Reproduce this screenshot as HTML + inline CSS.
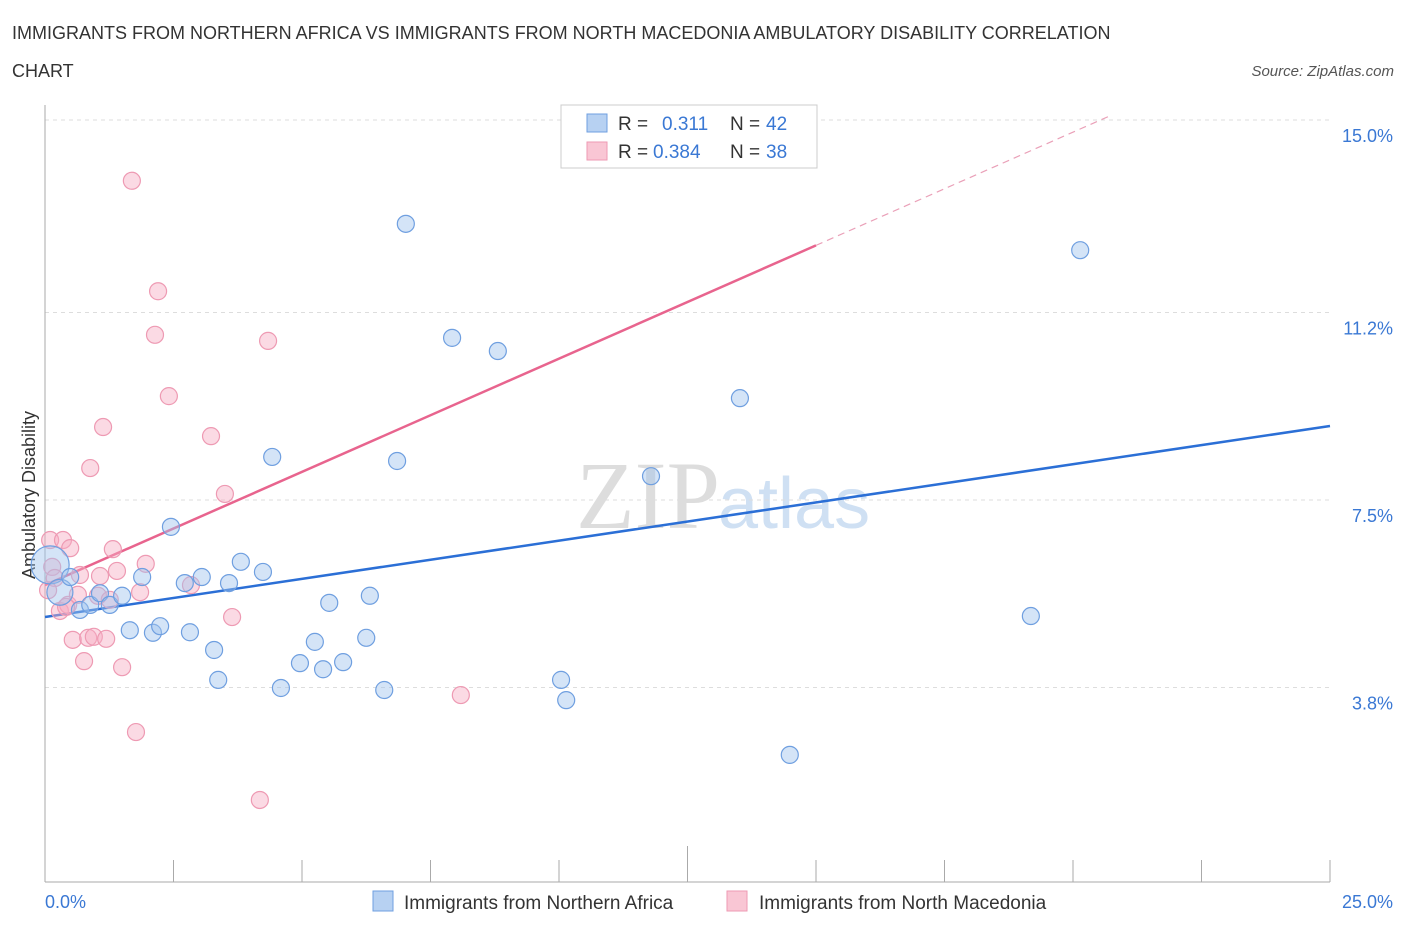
<!DOCTYPE html>
<html><head><meta charset="utf-8"><style>
body{margin:0;background:#fff;font-family:"Liberation Sans",sans-serif;}
</style></head><body>
<svg width="1406" height="930" xmlns="http://www.w3.org/2000/svg">
<text x="12" y="39" font-size="18" fill="#333">IMMIGRANTS FROM NORTHERN AFRICA VS IMMIGRANTS FROM NORTH MACEDONIA AMBULATORY DISABILITY CORRELATION</text>
<text x="12" y="77" font-size="18" fill="#333">CHART</text>
<text x="1394" y="76" font-size="15" fill="#555" font-style="italic" text-anchor="end">Source: ZipAtlas.com</text>
<text x="720" y="528" font-size="96" fill="#ddd" text-anchor="end" font-family="Liberation Serif">ZIP</text>
<text x="718" y="528" font-size="72" fill="#cfe0f3">atlas</text>
<g id="grid"></g>
<line x1="45" y1="105" x2="45" y2="882" stroke="#aaa"/>
<line x1="45" y1="882" x2="1330" y2="882" stroke="#aaa"/>
<g id="ticks"></g>
<text x="35" y="495" font-size="18" fill="#333" text-anchor="middle" transform="rotate(-90 35 495)" dy="0">Ambulatory Disability</text>
<text x="45" y="908" font-size="18" fill="#3a78d4">0.0%</text>
<text x="1393" y="908" font-size="18" fill="#3a78d4" text-anchor="end">25.0%</text>
<g id="lines"></g>
<g id="pts"></g>
<g>
<rect x="561" y="105" width="256" height="63" fill="#fff" stroke="#ccc"/>
<rect x="587" y="114" width="20" height="18" fill="#b7d1f2" stroke="#6f9fe0"/>
<rect x="587" y="142" width="20" height="18" fill="#f9c6d4" stroke="#ee9ab3"/>
<text x="618" y="130" font-size="19" fill="#333">R = </text><text x="662" y="130" font-size="19" fill="#3a78d4">0.311</text>
<text x="730" y="130" font-size="19" fill="#333">N = </text><text x="766" y="130" font-size="19" fill="#3a78d4">42</text>
<text x="618" y="158" font-size="19" fill="#333">R = </text><text x="653" y="158" font-size="19" fill="#3a78d4">0.384</text>
<text x="730" y="158" font-size="19" fill="#333">N = </text><text x="766" y="158" font-size="19" fill="#3a78d4">38</text>
</g>
<g>
<rect x="373" y="891" width="20" height="20" fill="#b7d1f2" stroke="#6f9fe0"/>
<text x="404" y="909" font-size="19" fill="#333">Immigrants from Northern Africa</text>
<rect x="727" y="891" width="20" height="20" fill="#f9c6d4" stroke="#ee9ab3"/>
<text x="759" y="909" font-size="19" fill="#333">Immigrants from North Macedonia</text>
</g>
</svg>
<script>
const yTicks=[15.0,11.2,7.5,3.8];
const yTickLabels=["15.0%","11.2%","7.5%","3.8%"];
const blueX=[0.10,0.29,0.49,0.68,0.88,1.07,1.26,1.50,1.65,1.89,2.10,2.24,2.45,2.72,2.82,3.05,3.29,3.37,3.58,3.81,4.24,4.42,4.59,4.96,5.25,5.41,5.53,5.80,6.25,6.32,6.60,6.85,7.02,7.92,8.81,10.04,10.14,11.79,13.52,14.49,19.18,20.14];
const blueY=[6.22,5.68,5.98,5.33,5.43,5.66,5.43,5.61,4.93,5.98,4.88,5.01,6.97,5.86,4.89,5.98,4.54,3.95,5.86,6.28,6.08,8.35,3.79,4.28,4.70,4.16,5.47,4.30,4.78,5.61,3.75,8.27,12.95,10.70,10.44,3.95,3.55,7.97,9.51,2.47,5.21,12.43];
const pinkX=[0.10,0.14,0.19,0.29,0.35,0.45,0.49,0.54,0.64,0.68,0.76,0.84,0.88,0.95,1.07,1.13,1.19,1.32,1.40,1.50,1.69,1.77,1.85,1.96,2.14,2.20,2.41,2.84,3.23,3.50,3.64,4.18,4.34,8.09,0.06,0.41,1.03,1.26];
const pinkY=[6.71,6.18,5.96,5.31,6.71,5.43,6.55,4.74,5.63,6.02,4.32,4.78,8.13,4.80,6.00,8.94,4.76,6.53,6.10,4.20,13.80,2.92,5.68,6.24,10.76,11.62,9.55,5.82,8.76,7.62,5.19,1.58,10.64,3.65,5.72,5.39,5.61,5.53];
const blueLine=[5.19,8.96]; // at x=0 and x=25
const pinkLine=[5.82,0.447]; // intercept, slope
const NS="http://www.w3.org/2000/svg";
const X=v=>45+v*51.4, Y=v=>500-(v-7.5)*50.67;
function mk(t,a,p){const e=document.createElementNS(NS,t);for(const k in a)e.setAttribute(k,a[k]);p.appendChild(e);return e;}
const grid=document.getElementById('grid');
yTicks.forEach((t,i)=>{
 const l=mk('line',{x1:45,x2:1330,y1:Y(t),y2:Y(t),stroke:'#ddd','stroke-dasharray':'4 4'},grid);
 
 
 const tx=mk('text',{x:1393,y:Y(t)+22,'font-size':18,fill:'#3a78d4','text-anchor':'end'},grid);
 tx.textContent=yTickLabels[i];
 
 
});
const tk=document.getElementById('ticks');
for(let i=0;i<=10;i++){
 const l=mk('line',{x1:X(i*2.5),x2:X(i*2.5),y1:i==5?846:860,y2:882,stroke:'#aaa'},tk);
 
 
}
const lg=document.getElementById('lines');
const bl=mk('line',{x1:X(0),y1:Y(blueLine[0]),x2:X(25),y2:Y(blueLine[1]),stroke:'#2b6fd6','stroke-width':2.5},lg);


const pl=mk('line',{x1:X(0),y1:Y(pinkLine[0]),x2:X(15),y2:Y(pinkLine[0]+15*pinkLine[1]),stroke:'#e8648e','stroke-width':2.5},lg);


const pd=mk('line',{x1:X(15),y1:Y(pinkLine[0]+15*pinkLine[1]),x2:X(20.7),y2:Y(pinkLine[0]+20.7*pinkLine[1]),stroke:'#eaa0b8','stroke-width':1.2,'stroke-dasharray':'7 5'},lg);


const pts=document.getElementById('pts');
pinkX.forEach((x,i)=>{
 const c=mk('circle',{cx:X(x),cy:Y(pinkY[i]),r:8.5,fill:'rgba(246,172,196,0.45)',stroke:'#ee9ab3','stroke-width':1.2},pts);
 
 
});
blueX.forEach((x,i)=>{
 const c=mk('circle',{cx:X(x),cy:Y(blueY[i]),r:i==0?19:(i==1?13:8.5),fill:'rgba(160,195,238,0.45)',stroke:'#6f9fe0','stroke-width':1.2},pts);
 
 
});
</script>
</body></html>
